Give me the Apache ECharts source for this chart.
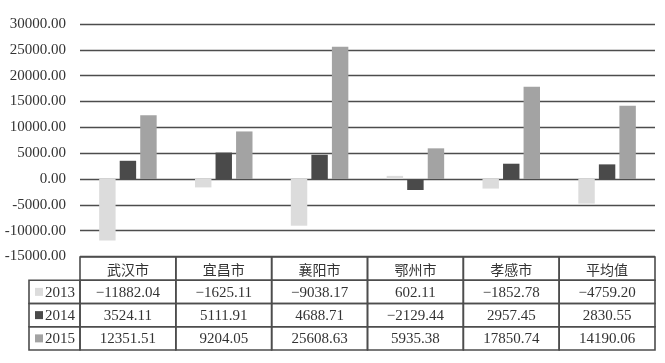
<!DOCTYPE html>
<html><head><meta charset="utf-8">
<script src="https://cdn.jsdelivr.net/npm/echarts@6/dist/echarts.min.js"></script>
<style>html,body{margin:0;padding:0;background:#fff}#c{width:665px;height:363px}</style>
</head><body><div id="c"></div>
<script>
const categories = ['武汉市','宜昌市','襄阳市','鄂州市','孝感市','平均值'];
const years = ['2013','2014','2015'];
const v2013 = [-11882.04, -1625.11, -9038.17, 602.11, -1852.78, -4759.20];
const v2014 = [3524.11, 5111.91, 4688.71, -2129.44, 2957.45, 2830.55];
const v2015 = [12351.51, 9204.05, 25608.63, 5935.38, 17850.74, 14190.06];
const yMin = -15000, yMax = 30000, yStep = 5000;
const colors = ['#dcdcdc', '#4a4a4a', '#a3a3a3'];
const seriesValues = [v2013, v2014, v2015];
const rows = ['header'].concat(years);

const serif = 'Liberation Serif';
const cjk = 'Noto Sans CJK SC';
const lineColor = '#4d4d4d';
const legendW = 51;

function fmt(v){ const s = Math.abs(v).toFixed(2); return v < 0 ? '\u2212' + s : s; }

// table cells
const cells = [];
categories.forEach((c, i) => cells.push({col: i, row: 0, text: c, kind: 'head'}));
years.forEach((y, r) => {
  cells.push({col: -1, row: r + 1, text: y, kind: 'legend', color: colors[r]});
  seriesValues[r].forEach((v, i) => cells.push({col: i, row: r + 1, text: fmt(v), kind: 'num'}));
});

const chart = echarts.init(document.getElementById('c'));
const barSeries = years.map((y, k) => ({
  name: y, type: 'bar', xAxisIndex: 0, yAxisIndex: 0,
  data: seriesValues[k], barGap: '25%', barCategoryGap: '40%',
  itemStyle: {color: colors[k]}, z: 3
}));

chart.setOption({
  animation: false,
  grid: [
    {left: 80, right: 10, top: 24, height: 232.5, containLabel: false},
    {left: 80, right: 10, top: 257, height: 93, containLabel: false}
  ],
  xAxis: [
    {gridIndex: 0, type: 'category', data: categories, boundaryGap: true,
     axisLine: {show: false}, axisTick: {show: false}, axisLabel: {show: false}},
    {gridIndex: 1, type: 'category', data: categories, boundaryGap: true, show: false}
  ],
  yAxis: [
    {gridIndex: 0, type: 'value', min: yMin, max: yMax, interval: yStep,
     axisLine: {show: false}, axisTick: {show: false},
     axisLabel: {formatter: v => v.toFixed(2), fontFamily: serif, fontSize: 15, color: '#333', margin: 14},
     splitLine: {lineStyle: {color: lineColor, width: 1.4}}},
    {gridIndex: 1, type: 'category', data: rows, inverse: true, show: false}
  ],
  series: barSeries.concat([{
    type: 'custom', xAxisIndex: 1, yAxisIndex: 1, clip: false, z: 5,
    data: cells.map(c => [Math.max(c.col, 0), c.row]),
    renderItem: function(params, api){
      const cell = cells[params.dataIndex];
      const sz = api.size([1, 1]);
      const ctr = api.coord([api.value(0), api.value(1)]);
      let x, w;
      if (cell.col < 0) { x = ctr[0] - sz[0] / 2 - legendW; w = legendW; }
      else { x = ctr[0] - sz[0] / 2; w = sz[0]; }
      const y = ctr[1] - sz[1] / 2, h = sz[1];
      const children = [{
        type: 'rect', shape: {x: x, y: y, width: w, height: h},
        style: {fill: 'none', stroke: lineColor, lineWidth: 1.6}
      }];
      if (cell.kind === 'legend') {
        children.push({type: 'rect', shape: {x: x + 6, y: ctr[1] - 4, width: 8, height: 8}, style: {fill: cell.color}});
        children.push({type: 'text', style: {x: x + 16, y: ctr[1] + 1, text: cell.text, fontFamily: serif, fontSize: 15, fill: '#333', align: 'left', verticalAlign: 'middle'}});
      } else {
        children.push({type: 'text', style: {x: x + w / 2, y: ctr[1] + 1, text: cell.text,
          fontFamily: cell.kind === 'head' ? cjk : serif, fontSize: cell.kind === 'head' ? 14 : 15,
          fill: '#333', align: 'center', verticalAlign: 'middle'}});
      }
      return {type: 'group', children: children};
    }
  }])
});
</script></body></html>
